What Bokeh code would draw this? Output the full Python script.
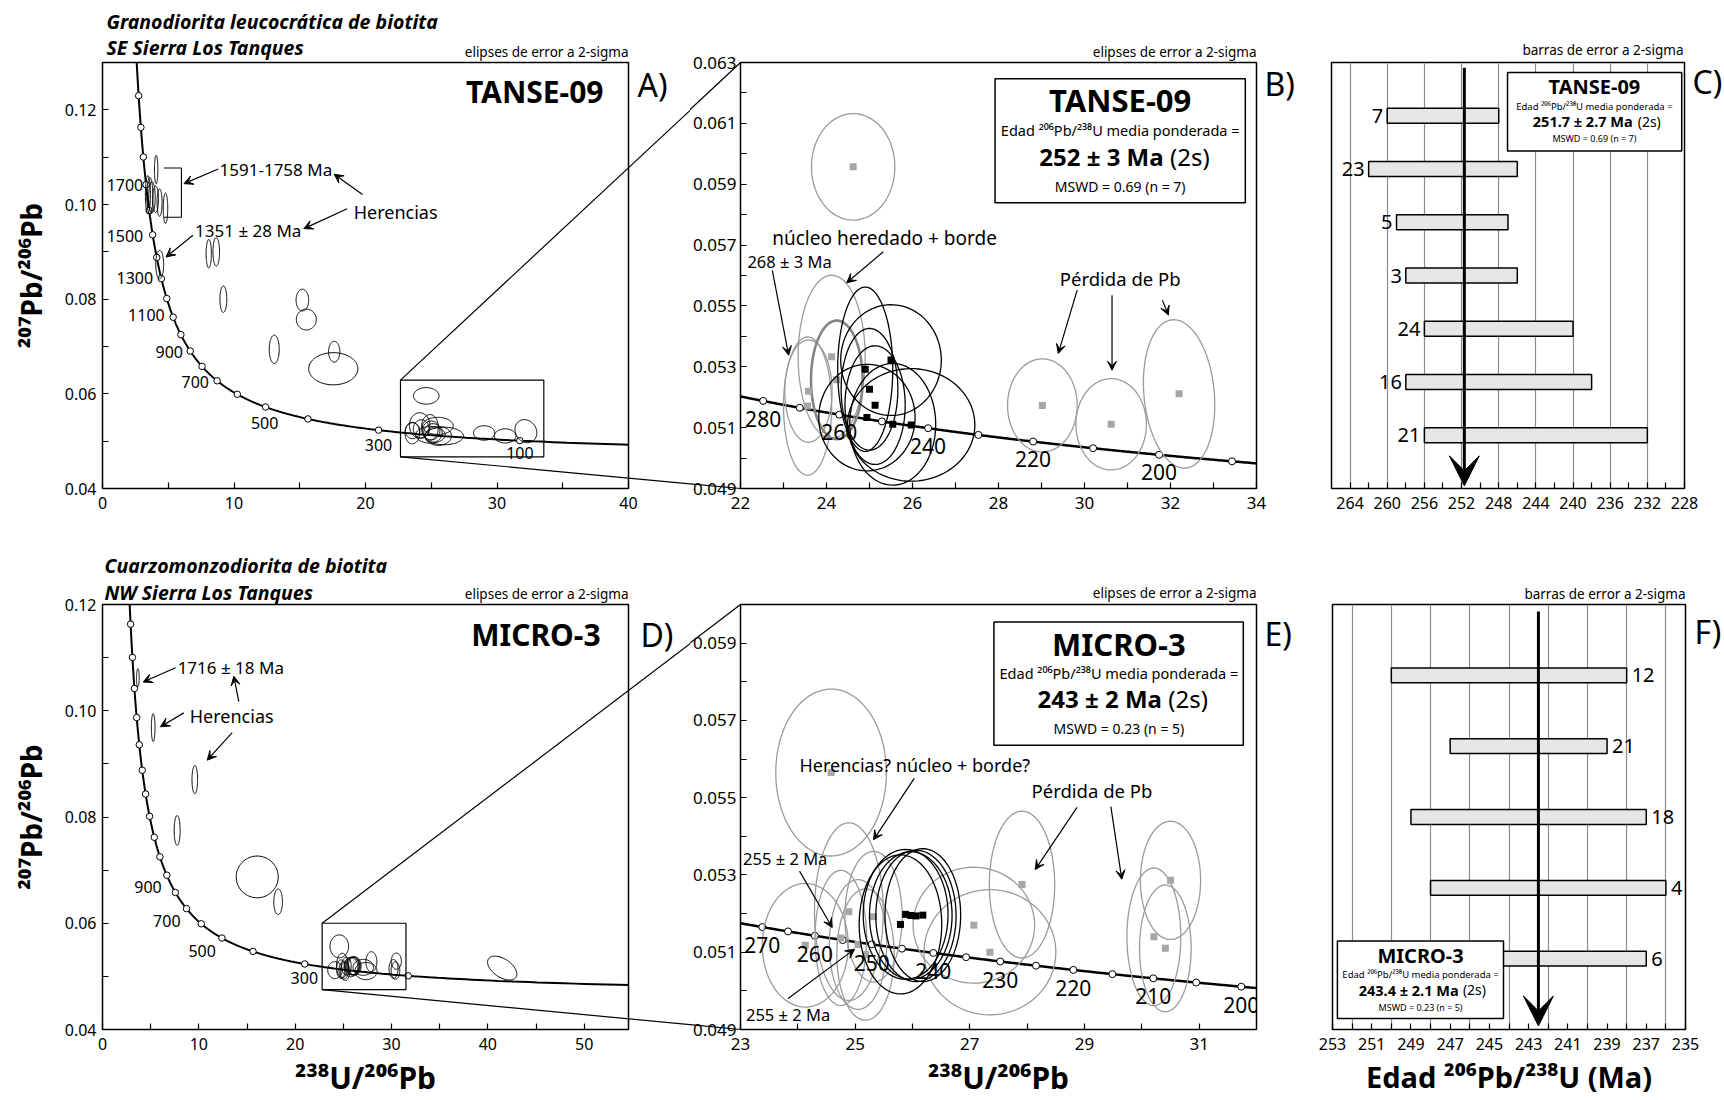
import numpy as np
from bokeh.plotting import figure
from bokeh.layouts import row, column
from bokeh.models import Range1d, FixedTicker, Arrow, VeeHead
from bokeh.core.properties import value
from bokeh.embed import file_html
from bokeh.resources import INLINE

FONT = "Noto Sans"
GREY = "#9b9b9b"
BAR_FILL = "#e6e6e6"

# ============================ DATA ============================
# Panel A (TANSE-09): inherited / discordant analyses outside the zoom box
A_ell_x  = [4.08, 3.45, 3.60, 3.76, 4.04, 4.34, 4.79, 4.35, 8.08, 8.65, 9.19, 15.20, 15.50, 13.06, 17.62, 17.55]
A_ell_y  = [0.1074, 0.1021, 0.1018, 0.1015, 0.1011, 0.1004, 0.0992, 0.0873, 0.0896, 0.0900, 0.0800, 0.0798, 0.0757, 0.0694, 0.0689, 0.0653]
A_ell_sx = [0.13, 0.19, 0.23, 0.25, 0.22, 0.19, 0.17, 0.30, 0.20, 0.25, 0.26, 0.48, 0.76, 0.38, 0.43, 1.87]
A_ell_sy = [0.0030, 0.0040, 0.0039, 0.0033, 0.0028, 0.0029, 0.0032, 0.0030, 0.0030, 0.0030, 0.0028, 0.0023, 0.0022, 0.0030, 0.0022, 0.0034]

# Panel B (TANSE-09): analyses used in the mean (black) and rejected (grey)
B_used_x  = [25.50, 24.90, 25.00, 25.13, 24.94, 25.54, 25.97]
B_used_y  = [0.05322, 0.05292, 0.05226, 0.05174, 0.05133, 0.05111, 0.05109]
B_used_sx = [1.17, 0.64, 0.66, 0.70, 1.12, 1.00, 1.48]
B_used_sy = [0.00182, 0.00270, 0.00200, 0.00195, 0.00175, 0.00200, 0.00185]
B_rej_x   = [24.62, 24.12, 24.24, 23.56, 23.58, 29.02, 30.62, 32.20]
B_rej_y   = [0.05957, 0.05333, 0.05257, 0.05171, 0.05220, 0.05173, 0.05111, 0.05211]
B_rej_sx  = [0.97, 0.78, 0.60, 0.56, 0.55, 0.81, 0.82, 0.83]
B_rej_sy  = [0.00175, 0.00268, 0.00195, 0.00227, 0.00168, 0.00153, 0.00150, 0.00244]
B_rej_rho = [0.0, 0.0, 0.0, 0.0, 0.0, 0.0, 0.0, -0.15]

# Panel C (TANSE-09): 206Pb/238U ages (Ma), 2-sigma bars
C_spot  = ["7", "23", "5", "3", "24", "16", "21"]
C_old   = [260, 262, 259, 258, 256, 258, 256]
C_young = [248, 246, 247, 246, 240, 238, 232]
C_mean  = 251.7

# Panel D (MICRO-3): inherited / discordant analyses outside the zoom box
D_ell_x   = [3.67, 5.26, 9.58, 7.75, 16.06, 18.23, 41.49]
D_ell_y   = [0.10619, 0.09683, 0.08703, 0.07747, 0.06872, 0.06404, 0.05156]
D_ell_sx  = [0.14, 0.19, 0.29, 0.31, 2.18, 0.45, 1.52]
D_ell_sy  = [0.00172, 0.00262, 0.00265, 0.00281, 0.00393, 0.00240, 0.00225]
D_ell_rho = [0.0, 0.0, 0.0, 0.0, 0.0, 0.0, -0.5]

# Panel E (MICRO-3): analyses used in the mean (black) and rejected (grey)
E_used_x  = [25.79, 25.88, 25.97, 26.06, 26.18]
E_used_y  = [0.05172, 0.05198, 0.05195, 0.05194, 0.05196]
E_used_sx = [0.72, 0.74, 0.72, 0.70, 0.66]
E_used_sy = [0.00180, 0.00168, 0.00165, 0.00170, 0.00172]
E_rej_x   = [24.58, 24.89, 25.32, 24.13, 24.75, 25.05, 25.18, 27.07, 27.35, 27.91, 30.21, 30.50, 30.41]
E_rej_y   = [0.05565, 0.05205, 0.05192, 0.05118, 0.05137, 0.05120, 0.05094, 0.05170, 0.05100, 0.05275, 0.05140, 0.05286, 0.05110]
E_rej_sx  = [0.965, 0.60, 0.50, 0.75, 0.45, 0.50, 0.50, 1.06, 1.15, 0.57, 0.47, 0.525, 0.45]
E_rej_sy  = [0.00216, 0.00230, 0.00169, 0.00160, 0.00175, 0.00168, 0.00170, 0.00150, 0.00162, 0.00190, 0.00178, 0.00153, 0.00164]

# Panel F (MICRO-3): 206Pb/238U ages (Ma), 2-sigma bars
F_spot  = ["12", "21", "18", "4", "6"]
F_old   = [250, 247, 249, 248, 249]
F_young = [238, 239, 237, 236, 237]
F_mean  = 242.5

# Concordia age marks (Ma) and labelled ages
A_marks  = [200, 300, 400, 500, 600, 700, 800, 900, 1000, 1100, 1200, 1300, 1400, 1500, 1600, 1700, 1800, 1900, 2000]
A_labels = ["1700", "1500", "1300", "1100", "900", "700", "500", "300", "100"]
B_marks  = [190, 200, 210, 220, 230, 240, 250, 260, 270, 280]
B_labels = [280, 260, 240, 220, 200]
D_marks  = [200, 300, 400, 500, 600, 700, 800, 900, 1000, 1100, 1200, 1300, 1400, 1500, 1600, 1700, 1800, 1900]
D_labels = ["900", "700", "500", "300"]
E_marks  = [200, 205, 210, 215, 220, 225, 230, 235, 240, 245, 250, 255, 260, 265, 270]
E_labels = [270, 260, 250, 240, 230, 220, 210, 200]

# Tick values and tick labels
A_xt, A_xm, A_xl = [0, 10, 20, 30, 40], [5, 15, 25, 35], ["0", "10", "20", "30", "40"]
A_yt, A_ym, A_yl = [0.04, 0.06, 0.08, 0.10, 0.12], [0.05, 0.07, 0.09, 0.11], ["0.04", "0.06", "0.08", "0.10", "0.12"]
B_xt, B_xm, B_xl = [22, 24, 26, 28, 30, 32, 34], [23, 25, 27, 29, 31, 33], ["22", "24", "26", "28", "30", "32", "34"]
B_yt = [0.049, 0.051, 0.053, 0.055, 0.057, 0.059, 0.061, 0.063]
B_ym = [0.050, 0.052, 0.054, 0.056, 0.058, 0.060, 0.062]
B_yl = ["0.049", "0.051", "0.053", "0.055", "0.057", "0.059", "0.061", "0.063"]
C_xt = [264, 260, 256, 252, 248, 244, 240, 236, 232, 228]
C_xm = [262, 258, 254, 250, 246, 242, 238, 234, 230]
C_xl = ["264", "260", "256", "252", "248", "244", "240", "236", "232", "228"]
C_grid = [264, 260, 256, 252, 248, 244, 240, 236, 232]
D_xt, D_xm, D_xl = [0, 10, 20, 30, 40, 50], [5, 15, 25, 35, 45], ["0", "10", "20", "30", "40", "50"]
E_xt, E_xm, E_xl = [23, 25, 27, 29, 31], [24, 26, 28, 30], ["23", "25", "27", "29", "31"]
E_yt = [0.049, 0.051, 0.053, 0.055, 0.057, 0.059]
E_ym = [0.050, 0.052, 0.054, 0.056, 0.058]
E_yl = ["0.049", "0.051", "0.053", "0.055", "0.057", "0.059"]
F_xt = [253, 251, 249, 247, 245, 243, 241, 239, 237, 235]
F_xm = [252, 250, 248, 246, 244, 242, 240, 238, 236]
F_xl = ["253", "251", "249", "247", "245", "243", "241", "239", "237", "235"]
F_grid = [252, 250, 248, 246, 244, 242, 240, 238, 236]

# ===================== concordia reference curve =====================
L238, L235, U85 = 1.55125e-10, 9.8485e-10, 137.88


def concordia(t_ma):
    t = np.asarray(t_ma, dtype=float) * 1e6
    e8 = np.exp(L238 * t) - 1.0
    e5 = np.exp(L235 * t) - 1.0
    return 1.0 / e8, e5 / e8 / U85


# ============================ LAYOUT ============================
FR = {  # frame in page px (left, right, top, bottom), x range, y range
    "A": ((102, 628, 61, 488), (0, 40), (0.04, 0.13)),
    "B": ((740, 1256, 62, 488), (22, 34), (0.049, 0.063)),
    "C": ((1331, 1684, 62, 488), (266, 228), (0, 8)),
    "D": ((102, 628, 603, 1031), (0, 54.6), (0.04, 0.12)),
    "E": ((740, 1256, 604, 1031), (23, 32), (0.049, 0.060)),
    "F": ((1332, 1685, 604, 1032), (253, 235), (0, 6)),
}
CANVAS = {"A": (0, 0, 690, 545), "B": (690, 0, 610, 545), "C": (1300, 0, 424, 545),
          "D": (0, 545, 690, 555), "E": (690, 545, 610, 555), "F": (1300, 545, 424, 555)}


def to_data(k, px, py):
    (fl, fr, ft, fb), (x0, x1), (y0, y1) = FR[k]
    return x0 + (px - fl) * (x1 - x0) / (fr - fl), y1 - (py - ft) * (y1 - y0) / (fb - ft)


def to_page(k, x, y):
    (fl, fr, ft, fb), (x0, x1), (y0, y1) = FR[k]
    return fl + (x - x0) * (fr - fl) / (x1 - x0), ft + (y1 - y) * (fb - ft) / (y1 - y0)


def make(k):
    ox, oy, w, h = CANVAS[k]
    (fl, fr, ft, fb), xr, yr = FR[k]
    p = figure(width=w, height=h, x_range=Range1d(*xr), y_range=Range1d(*yr),
               output_backend="svg", toolbar_location=None,
               min_border_left=fl - ox, min_border_right=ox + w - fr,
               min_border_top=ft - oy, min_border_bottom=oy + h - fb)
    p.grid.visible = False
    p.outline_line_color = "black"
    p.outline_line_width = 1.5
    for ax in p.axis:
        ax.axis_line_color = None
        ax.major_tick_in, ax.major_tick_out = 6, 0
        ax.minor_tick_in, ax.minor_tick_out = 6, 0
        ax.major_tick_line_width = 1.2
        ax.minor_tick_line_width = 1.2
        ax.major_label_text_font = FONT
        ax.major_label_text_font_size = "16px"
        ax.major_label_text_color = "black"
    return p


def set_ticks(ax, major, minor, labels, standoff, size="16px"):
    ax.ticker = FixedTicker(ticks=major, minor_ticks=minor)
    ax.major_label_overrides = {m: l for m, l in zip(major, labels)}
    ax.major_label_standoff = standoff
    ax.major_label_text_font_size = size


def axis_title(ax, text, size, standoff):
    ax.axis_label = text
    ax.axis_label_text_font = FONT
    ax.axis_label_text_font_style = "bold"
    ax.axis_label_text_font_size = size
    ax.axis_label_text_color = "black"
    ax.axis_label_standoff = standoff


def ell_xy(cx, cy, sx, sy, rho=0.0, n=96):
    t = np.linspace(0.0, 2.0 * np.pi, n)
    xs = cx + sx * np.cos(t)
    ys = cy + sy * (rho * np.cos(t) + np.sqrt(1.0 - rho ** 2) * np.sin(t))
    return xs.tolist(), ys.tolist()


def draw_ellipses(p, xs, ys, sxs, sys_, rhos=None, color="black", width=1.0):
    if rhos is None:
        rhos = [0.0] * len(xs)
    XX, YY = [], []
    for cx, cy, sx, sy, r in zip(xs, ys, sxs, sys_, rhos):
        a, b = ell_xy(cx, cy, sx, sy, r)
        XX.append(a)
        YY.append(b)
    p.multi_line(xs=XX, ys=YY, line_color=color, line_width=width)


def draw_concordia(p, t_lo, t_hi, marks, lw, msize):
    t = np.linspace(t_lo, t_hi, 800)
    x, y = concordia(t)
    p.line(x, y, line_color="black", line_width=lw)
    mx, my = concordia(marks)
    p.scatter(mx, my, marker="circle", size=msize, fill_color="white", line_color="black", line_width=1)


def txt(p, x, y, s, size, align="center", style="normal", color="black", level="glyph"):
    p.text(x=[x], y=[y], text=[s], text_font=value(FONT), text_font_size=value(f"{size}px"),
           text_font_style=style, text_align=align, text_baseline="middle", text_color=color, level=level)


def page_label(p, k, px, py, s, size, align="left", style="normal"):
    # text placed outside the frame (titles, panel letters, notes): overlay level is not clipped
    x, y = to_data(k, px, py)
    txt(p, x, y, s, size, align=align, style=style, level="overlay")


def arrows(p, segs, lw=1.2, size=9):
    for x0, y0, x1, y1 in segs:
        p.add_layout(Arrow(end=VeeHead(size=size, fill_color="black", line_color="black", line_width=1),
                           x_start=x0, y_start=y0, x_end=x1, y_end=y1,
                           line_color="black", line_width=lw))


def connectors(p_src, ksrc, corners_src, p_dst, kdst, corners_dst):
    # lines from zoom-box corners (source panel) to frame corners (destination panel)
    for (sx, sy), (dx, dy) in zip(corners_src, corners_dst):
        spx, spy = to_page(ksrc, sx, sy)
        dpx, dpy = to_page(kdst, dx, dy)
        ex, ey = to_data(ksrc, dpx, dpy)
        p_src.segment(x0=[sx], y0=[sy], x1=[ex], y1=[ey], line_color="black", line_width=1.2, level="overlay")
        bx, by = to_data(kdst, spx, spy)
        p_dst.segment(x0=[dx], y0=[dy], x1=[bx], y1=[by], line_color="black", line_width=1.2, level="overlay")


def stats_box(p, l, r, b, t, cx, name, ys, sizes, mean_txt, xsplit, mswd):
    p.quad(left=[l], right=[r], bottom=[b], top=[t], fill_color="white", line_color="black", line_width=1.5)
    txt(p, cx, ys[0], name, sizes[0], style="bold")
    txt(p, cx, ys[1], "Edad \u00b2\u2070\u2076Pb/\u00b2\u00b3\u2078U media ponderada =", sizes[1])
    txt(p, xsplit[0], ys[2], mean_txt, sizes[2], align="right", style="bold")
    txt(p, xsplit[1], ys[2], "(2s)", sizes[3], align="left")
    txt(p, cx, ys[3], mswd, sizes[4])


# ============================ PANEL A ============================
pA = make("A")
set_ticks(pA.xaxis[0], A_xt, A_xm, A_xl, 8)
set_ticks(pA.yaxis[0], A_yt, A_ym, A_yl, 6)
axis_title(pA.yaxis[0], "\u00b2\u2070\u2077Pb/\u00b2\u2070\u2076Pb", "28px", 12)
draw_concordia(pA, 120, 2300, A_marks, 2.0, 6.5)
draw_ellipses(pA, A_ell_x, A_ell_y, A_ell_sx, A_ell_sy)
draw_ellipses(pA, B_used_x + B_rej_x, B_used_y + B_rej_y, B_used_sx + B_rej_sx, B_used_sy + B_rej_sy,
              [0.0] * len(B_used_x) + B_rej_rho)
A_box = (22.66, 33.56, 0.0467, 0.0629)
pA.quad(left=[A_box[0]], right=[A_box[1]], bottom=[A_box[2]], top=[A_box[3]], fill_alpha=0, line_color="black", line_width=1.2)
pA.multi_line(xs=[[4.66, 6.0, 6.0, 4.66]], ys=[[0.1077, 0.1077, 0.0973, 0.0973]], line_color="black", line_width=1.1)
txt(pA, 38.1, 0.1238, "TANSE-09", 30, align="right", style="bold")
txt(pA, 8.9, 0.1075, "1591-1758 Ma", 17, align="left")
txt(pA, 19.1, 0.0984, "Herencias", 18, align="left")
txt(pA, 7.04, 0.0946, "1351 \u00b1 28 Ma", 17, align="left")
arrows(pA, [(8.8, 0.1075, 6.2, 0.1044), (19.77, 0.1021, 17.62, 0.1064),
            (18.61, 0.0991, 15.31, 0.0949), (6.88, 0.0935, 4.83, 0.0889)])
A_lab_x = [3.1, 3.1, 3.85, 4.73, 6.12, 8.1, 12.33, 20.99, 31.74]
A_lab_y = [0.1041, 0.0933, 0.0845, 0.0766, 0.0689, 0.0626, 0.0539, 0.0492, 0.04745]
A_lab_al = ["right"] * 6 + ["center"] * 3
for s, x, y, al in zip(A_labels, A_lab_x, A_lab_y, A_lab_al):
    txt(pA, x, y, s, 16, align=al)
page_label(pA, "A", 106, 20, "Granodiorita leucocr\u00e1tica de biotita", 19.5, style="bold italic")
page_label(pA, "A", 106, 46, "SE Sierra Los Tanques", 19.5, style="bold italic")
page_label(pA, "A", 628, 50, "elipses de error a 2-sigma", 13.5, align="right")
page_label(pA, "A", 637, 83, "A)", 32)

# ============================ PANEL B ============================
pB = make("B")
set_ticks(pB.xaxis[0], B_xt, B_xm, B_xl, 8, "17px")
set_ticks(pB.yaxis[0], B_yt, B_ym, B_yl, 4, "17px")
draw_concordia(pB, 170, 300, B_marks, 2.5, 7)
draw_ellipses(pB, B_rej_x, B_rej_y, B_rej_sx, B_rej_sy, B_rej_rho, color=GREY, width=1.3)
draw_ellipses(pB, [B_rej_x[2]], [B_rej_y[2]], [B_rej_sx[2]], [B_rej_sy[2]], color="#858585", width=2.6)
pB.scatter(B_rej_x, B_rej_y, marker="square", size=7, fill_color="#a6a6a6", line_color=None)
draw_ellipses(pB, B_used_x, B_used_y, B_used_sx, B_used_sy, color="black", width=1.3)
pB.scatter(B_used_x, B_used_y, marker="square", size=7, fill_color="black", line_color=None)
bx, by = concordia(B_labels)
for s, x, y in zip(B_labels, bx, by):
    txt(pB, float(x), float(y) - 0.00058, str(s), 21)
stats_box(pB, 27.92, 33.74, 0.05839, 0.06247, 30.83, "TANSE-09",
          [0.06176, 0.06078, 0.0599, 0.05891], [31, 14.5, 24, 24, 14],
          "252 \u00b1 3 Ma", (31.84, 31.99), "MSWD = 0.69 (n = 7)")
txt(pB, 25.35, 0.05722, "n\u00facleo heredado + borde", 19)
txt(pB, 23.14, 0.05645, "268 \u00b1 3 Ma", 16.5)
txt(pB, 30.83, 0.0559, "P\u00e9rdida de Pb", 18.5)
arrows(pB, [(25.32, 0.05678, 24.47, 0.05576), (22.74, 0.05617, 23.12, 0.05338),
            (29.83, 0.05552, 29.39, 0.05344), (30.64, 0.05535, 30.64, 0.05289),
            (31.81, 0.05519, 31.95, 0.0547)])
page_label(pB, "B", 1256, 51, "elipses de error a 2-sigma", 13.5, align="right")
page_label(pB, "B", 1264, 83, "B)", 32)

connectors(pA, "A", [(A_box[0], A_box[3]), (A_box[0], A_box[2])], pB, "B", [(22, 0.063), (22, 0.049)])

# ============================ PANEL C ============================
pC = make("C")
pC.yaxis.visible = False
set_ticks(pC.xaxis[0], C_xt, C_xm, C_xl, 8)
pC.xgrid.visible = True
pC.xgrid.ticker = FixedTicker(ticks=C_grid)
pC.xgrid.grid_line_color = "#8c8c8c"
pC.xgrid.grid_line_width = 1.2
C_pos = [7, 6, 5, 4, 3, 2, 1]
pC.hbar(y=C_pos, left=C_young, right=C_old, height=0.28, fill_color=BAR_FILL, line_color="black", line_width=1.5)
pC.text(x=C_old, y=C_pos, text=C_spot, x_offset=-4, text_font=value(FONT), text_font_size=value("20px"),
        text_align="right", text_baseline="middle", text_color="black")
stats_box(pC, 247.05, 228.3, 6.34, 7.81, 237.7, "TANSE-09",
          [7.54, 7.18, 6.9, 6.57], [20, 9.5, 14.5, 14, 9],
          "251.7 \u00b1 2.7 Ma", (233.58, 233.04), "MSWD = 0.69 (n = 7)")
pC.add_layout(Arrow(end=VeeHead(size=30, fill_color="black", line_color="black"),
                    x_start=C_mean, y_start=7.9, x_end=C_mean, y_end=0.05, line_color="black", line_width=3))
page_label(pC, "C", 1683, 49, "barras de error a 2-sigma", 13.5, align="right")
page_label(pC, "C", 1692, 81, "C)", 32)

# ============================ PANEL D ============================
pD = make("D")
set_ticks(pD.xaxis[0], D_xt, D_xm, D_xl, 8)
set_ticks(pD.yaxis[0], A_yt, A_ym, A_yl, 6)
axis_title(pD.yaxis[0], "\u00b2\u2070\u2077Pb/\u00b2\u2070\u2076Pb", "28px", 12)
axis_title(pD.xaxis[0], "\u00b2\u00b3\u2078U/\u00b2\u2070\u2076Pb", "30px", 4)
draw_concordia(pD, 100, 2300, D_marks, 2.0, 6.5)
draw_ellipses(pD, D_ell_x, D_ell_y, D_ell_sx, D_ell_sy, D_ell_rho)
draw_ellipses(pD, E_used_x + E_rej_x, E_used_y + E_rej_y, E_used_sx + E_rej_sx, E_used_sy + E_rej_sy)
D_box = (22.8, 31.5, 0.0475, 0.0600)
pD.quad(left=[D_box[0]], right=[D_box[1]], bottom=[D_box[2]], top=[D_box[3]], fill_alpha=0, line_color="black", line_width=1.2)
txt(pD, 51.7, 0.1143, "MICRO-3", 30, align="right", style="bold")
txt(pD, 7.8, 0.1082, "1716 \u00b1 18 Ma", 17, align="left")
txt(pD, 9.06, 0.0990, "Herencias", 18, align="left")
arrows(pD, [(7.58, 0.1081, 4.22, 0.1054), (14.15, 0.1017, 13.63, 0.1065),
            (8.44, 0.0996, 6.02, 0.0970), (13.46, 0.0959, 10.87, 0.0907)])
D_lab_x = [6.15, 8.1, 10.34, 20.95]
D_lab_y = [0.06678, 0.06042, 0.05486, 0.04971]
D_lab_al = ["right", "right", "center", "center"]
for s, x, y, al in zip(D_labels, D_lab_x, D_lab_y, D_lab_al):
    txt(pD, x, y, s, 16, align=al)
page_label(pD, "D", 104, 564, "Cuarzomonzodiorita de biotita", 19.5, style="bold italic")
page_label(pD, "D", 104, 591, "NW Sierra Los Tanques", 19.5, style="bold italic")
page_label(pD, "D", 628, 592, "elipses de error a 2-sigma", 13.5, align="right")
page_label(pD, "D", 640, 633, "D)", 32)

# ============================ PANEL E ============================
pE = make("E")
set_ticks(pE.xaxis[0], E_xt, E_xm, E_xl, 8, "17px")
set_ticks(pE.yaxis[0], E_yt, E_ym, E_yl, 4, "17px")
axis_title(pE.xaxis[0], "\u00b2\u00b3\u2078U/\u00b2\u2070\u2076Pb", "30px", 4)
draw_concordia(pE, 180, 290, E_marks, 2.5, 7)
draw_ellipses(pE, E_rej_x, E_rej_y, E_rej_sx, E_rej_sy, color=GREY, width=1.3)
pE.scatter(E_rej_x, E_rej_y, marker="square", size=7, fill_color="#a6a6a6", line_color=None)
draw_ellipses(pE, E_used_x, E_used_y, E_used_sx, E_used_sy, color="black", width=1.3)
pE.scatter(E_used_x, E_used_y, marker="square", size=7, fill_color="black", line_color=None)
ex_, ey_ = concordia(E_labels)
for s, x, y in zip(E_labels, ex_, ey_):
    txt(pE, float(x), float(y) - 0.00047, str(s), 21)
stats_box(pE, 27.42, 31.77, 0.05636, 0.05955, 29.6, "MICRO-3",
          [0.058975, 0.05822, 0.05756, 0.05679], [31, 14.5, 24, 24, 14],
          "243 \u00b1 2 Ma", (30.35, 30.46), "MSWD = 0.23 (n = 5)")
txt(pE, 26.04, 0.05584, "Herencias? n\u00facleo + borde?", 18)
txt(pE, 29.13, 0.05518, "P\u00e9rdida de Pb", 18.5)
txt(pE, 23.78, 0.05342, "255 \u00b1 2 Ma", 16.5)
txt(pE, 23.83, 0.0494, "255 \u00b1 2 Ma", 16.5)
arrows(pE, [(26.03, 0.0555, 25.32, 0.05391), (28.87, 0.05475, 28.14, 0.05314),
            (29.46, 0.05477, 29.65, 0.05289), (24.03, 0.0531, 24.6, 0.05164),
            (23.83, 0.0498, 24.99, 0.05108)])
page_label(pE, "E", 1256, 592, "elipses de error a 2-sigma", 13.5, align="right")
page_label(pE, "E", 1264, 633, "E)", 32)

connectors(pD, "D", [(D_box[0], D_box[3]), (D_box[0], D_box[2])], pE, "E", [(23, 0.060), (23, 0.049)])

# ============================ PANEL F ============================
pF = make("F")
pF.yaxis.visible = False
set_ticks(pF.xaxis[0], F_xt, F_xm, F_xl, 8)
axis_title(pF.xaxis[0], "Edad \u00b2\u2070\u2076Pb/\u00b2\u00b3\u2078U (Ma)", "29px", 4)
pF.xgrid.visible = True
pF.xgrid.ticker = FixedTicker(ticks=F_grid)
pF.xgrid.grid_line_color = "#8c8c8c"
pF.xgrid.grid_line_width = 1.2
F_pos = [5, 4, 3, 2, 1]
pF.hbar(y=F_pos, left=F_young, right=F_old, height=0.21, fill_color=BAR_FILL, line_color="black", line_width=1.5)
pF.text(x=F_young, y=F_pos, text=F_spot, x_offset=5, text_font=value(FONT), text_font_size=value("20px"),
        text_align="left", text_baseline="middle", text_color="black")
stats_box(pF, 252.75, 244.28, 0.154, 1.251, 248.51, "MICRO-3",
          [1.041, 0.775, 0.56, 0.308], [20, 9.5, 14.5, 14, 9],
          "243.4 \u00b1 2.1 Ma", (246.57, 246.35), "MSWD = 0.23 (n = 5)")
pF.add_layout(Arrow(end=VeeHead(size=30, fill_color="black", line_color="black"),
                    x_start=F_mean, y_start=5.9, x_end=F_mean, y_end=0.05, line_color="black", line_width=3))
page_label(pF, "F", 1685, 593, "barras de error a 2-sigma", 13.5, align="right")
page_label(pF, "F", 1694, 631, "F)", 32)

layout = column(row(pA, pB, pC), row(pD, pE, pF))
open("out.html", "w").write(file_html(layout, INLINE, "Edades U-Pb"))
